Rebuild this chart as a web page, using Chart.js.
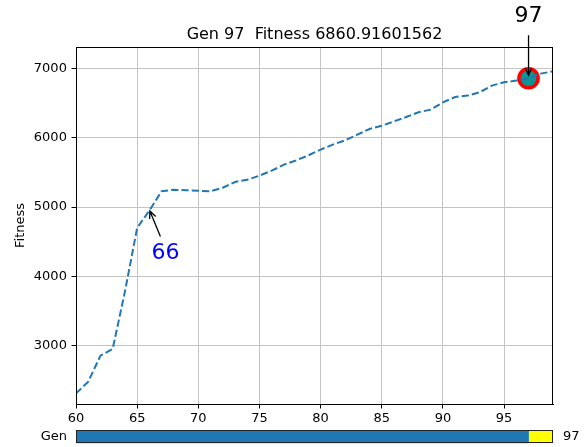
<!DOCTYPE html>
<html>
<head>
<meta charset="utf-8">
<script src="https://cdn.jsdelivr.net/npm/chart.js@4.4.0/dist/chart.umd.min.js"></script>
<style>
  body { margin: 0; background: #fff; }
  #wrap { position: relative; width: 584px; height: 447px; }
  #wrap canvas { position: absolute; left: 0; }
  #main { top: 0; }
  #slider { top: 420px; }
</style>
</head>
<body>
<div id="wrap">
  <canvas id="main" width="584" height="447"></canvas>
  <canvas id="slider" width="584" height="27"></canvas>
</div>
<script>
// dados
const gens = [60, 61, 62, 63, 64, 65, 66, 67, 68, 69, 70, 71, 72, 73, 74, 75, 76, 77, 78, 79,
  80, 81, 82, 83, 84, 85, 86, 87, 88, 89, 90, 91, 92, 93, 94, 95, 96, 97, 98, 99];
const fitness = [2310, 2480, 2855, 2952, 3780, 4700, 4950, 5230, 5250, 5245, 5235, 5230, 5280, 5363, 5396, 5454,
  5526, 5613, 5675, 5747, 5830, 5902, 5964, 6046, 6128, 6176, 6238, 6301, 6369, 6408, 6513, 6590, 6610,
  6658, 6754, 6802, 6827, 6860.91601562, 6928, 6961];
const xTicks = [60, 65, 70, 75, 80, 85, 90, 95];
const yTicks = [3000, 4000, 5000, 6000, 7000];
const currentGen = 97;
const currentFitness = 6860.91601562;
const markedGen = 66;
const genRange = [60, 99];

Chart.defaults.font.family = "'DejaVu Sans', sans-serif";
Chart.defaults.font.size = 13;
Chart.defaults.color = '#000';

// seta simples estilo "->"
function drawArrow(ctx, x1, y1, x2, y2) {
  const ang = Math.atan2(y2 - y1, x2 - x1);
  const head = 8;
  ctx.beginPath();
  ctx.moveTo(x1, y1);
  ctx.lineTo(x2, y2);
  ctx.moveTo(x2 - head * Math.cos(ang - 0.42), y2 - head * Math.sin(ang - 0.42));
  ctx.lineTo(x2, y2);
  ctx.lineTo(x2 - head * Math.cos(ang + 0.42), y2 - head * Math.sin(ang + 0.42));
  ctx.stroke();
}

// moldura (spines) e anotações
const frameAndNotes = {
  id: 'frameAndNotes',
  afterDatasetsDraw(chart) {
    const { ctx, chartArea: a, scales } = chart;
    ctx.save();
    ctx.strokeStyle = '#000';
    ctx.lineWidth = 1;
    ctx.strokeRect(Math.round(a.left) + 0.5, Math.round(a.top) + 0.5,
      Math.round(a.right - a.left) - 1, Math.round(a.bottom - a.top));

    ctx.lineWidth = 1.3;
    ctx.font = "22px 'DejaVu Sans'";
    ctx.textAlign = 'center';
    ctx.textBaseline = 'middle';

    // 66
    const i66 = gens.indexOf(markedGen);
    const p66x = scales.x.getPixelForValue(markedGen);
    const p66y = scales.y.getPixelForValue(fitness[i66]);
    drawArrow(ctx, p66x + 11, p66y + 26, p66x + 0.5, p66y + 0.5);
    ctx.fillStyle = '#0000ff';
    ctx.fillText(String(markedGen), p66x + 16, p66y + 43);

    // 97
    const p97x = scales.x.getPixelForValue(currentGen);
    const p97y = scales.y.getPixelForValue(currentFitness);
    drawArrow(ctx, p97x, p97y - 43, p97x, p97y - 3);
    ctx.fillStyle = '#000';
    ctx.fillText(String(currentGen), p97x, p97y - 62);
    ctx.restore();
  }
};

new Chart(document.getElementById('main'), {
  type: 'line',
  data: {
    datasets: [{
      data: gens.map((g, i) => ({ x: g, y: fitness[i] })),
      borderColor: '#1f77b4',
      borderWidth: 2,
      borderDash: [7.2, 3.1],
      pointRadius: 0,
      tension: 0,
      fill: false
    }, {
      data: [{ x: currentGen, y: currentFitness }],
      showLine: false,
      pointRadius: 9.6,
      pointBackgroundColor: '#0e9494',
      pointBorderColor: '#ff0000',
      pointBorderWidth: 3.5
    }]
  },
  options: {
    responsive: false,
    animation: false,
    devicePixelRatio: 1,
    layout: { padding: { left: 0, right: 31, top: 0, bottom: 0 } },
    plugins: {
      legend: { display: false },
      tooltip: { enabled: false },
      title: {
        display: true,
        fullSize: false,
        text: 'Gen ' + currentGen + '  Fitness ' + currentFitness.toFixed(8),
        font: { size: 16, weight: 'normal' },
        color: '#000',
        padding: { top: 25, bottom: 2.8 }
      }
    },
    scales: {
      x: {
        type: 'linear',
        min: genRange[0],
        max: genRange[1],
        afterBuildTicks: s => { s.ticks = xTicks.map(v => ({ value: v })); },
        afterFit: s => { s.height = 43; },
        ticks: { padding: 2, callback: v => String(v), maxRotation: 0 },
        grid: { color: '#c4c4c4', lineWidth: 1, tickColor: '#000', tickLength: 4.5 },
        border: { color: '#000', width: 1 }
      },
      y: {
        min: 2157,
        max: 7312,
        afterBuildTicks: s => { s.ticks = yTicks.map(v => ({ value: v })); },
        afterFit: s => { s.width = 76; },
        ticks: { padding: 4.6, callback: v => String(v) },
        grid: { color: '#c4c4c4', lineWidth: 1, tickColor: '#000', tickLength: 4.5 },
        border: { color: '#000', width: 1 },
        title: { display: true, text: 'Fitness', font: { size: 13 }, color: '#000', padding: { top: 13, bottom: 0 } }
      }
    }
  },
  plugins: [frameAndNotes]
});

// slider da geração
const sliderFrame = {
  id: 'sliderFrame',
  afterDatasetsDraw(chart) {
    const { ctx, chartArea: a } = chart;
    ctx.save();
    ctx.strokeStyle = '#222';
    ctx.lineWidth = 1;
    ctx.strokeRect(Math.round(a.left) + 0.5, Math.round(a.top) + 0.5,
      Math.round(a.right - a.left) - 1, Math.round(a.bottom - a.top) - 1);
    ctx.fillStyle = '#000';
    ctx.font = "13px 'DejaVu Sans'";
    ctx.textAlign = 'left';
    ctx.textBaseline = 'middle';
    ctx.fillText(String(currentGen), a.right + 10, (a.top + a.bottom) / 2);
    ctx.restore();
  }
};

new Chart(document.getElementById('slider'), {
  type: 'bar',
  data: {
    labels: ['Gen'],
    datasets: [{
      data: [[genRange[0], currentGen]],
      backgroundColor: '#1f77b4',
      grouped: false,
      barPercentage: 1,
      categoryPercentage: 1
    }, {
      data: [[currentGen, genRange[1]]],
      backgroundColor: '#ffff00',
      grouped: false,
      barPercentage: 1,
      categoryPercentage: 1
    }]
  },
  options: {
    indexAxis: 'y',
    responsive: false,
    animation: false,
    devicePixelRatio: 1,
    layout: { padding: { left: 0, right: 31, top: 10, bottom: 3.7 } },
    plugins: { legend: { display: false }, tooltip: { enabled: false } },
    scales: {
      x: { type: 'linear', min: genRange[0], max: genRange[1], display: false },
      y: {
        afterFit: s => { s.width = 76; s.paddingTop = 0; s.paddingBottom = 0; },
        ticks: { padding: 9 },
        grid: { display: false, drawTicks: false },
        border: { display: false }
      }
    }
  },
  plugins: [sliderFrame]
});
</script>
</body>
</html>
